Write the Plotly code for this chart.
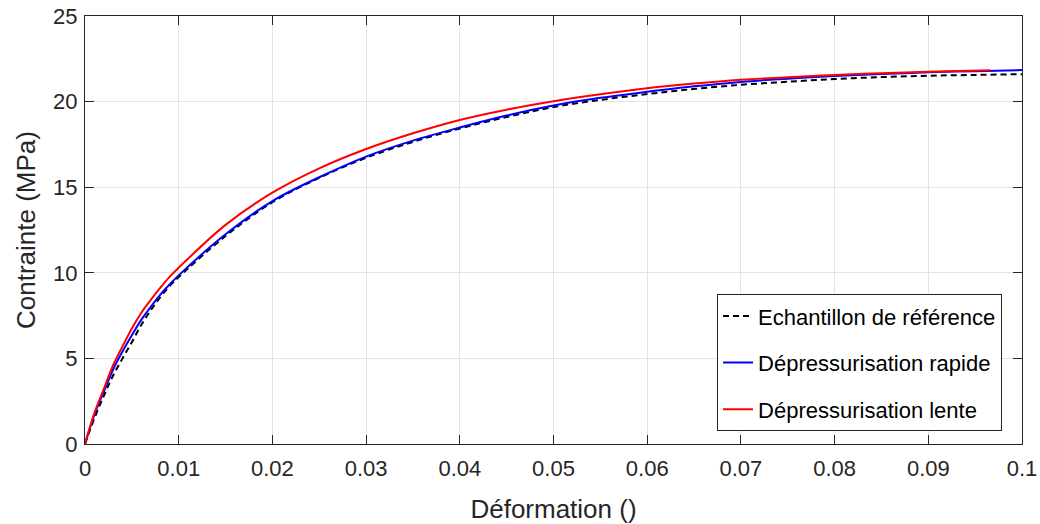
import plotly.graph_objects as go

# Echantillon de référence (black dashed)
ref_x = [0, 0.001, 0.002, 0.003, 0.004, 0.005, 0.006, 0.007, 0.008, 0.009, 0.01,
         0.015, 0.02, 0.025, 0.03, 0.035, 0.04, 0.045, 0.05, 0.055, 0.06, 0.065, 0.07,
         0.075, 0.08, 0.085, 0.09, 0.095, 0.1]
ref_y = [0, 1.5, 2.8, 4.0, 5.0, 5.95, 6.95, 7.8, 8.55, 9.2, 9.75,
         12.15, 14.12, 15.55, 16.72, 17.65, 18.43, 19.1, 19.68, 20.1, 20.44, 20.74, 20.98,
         21.16, 21.32, 21.43, 21.51, 21.56, 21.6]

# Dépressurisation rapide (blue)
rap_x = [0, 0.001, 0.002, 0.003, 0.004, 0.005, 0.006, 0.007, 0.008, 0.009, 0.01,
         0.015, 0.02, 0.025, 0.03, 0.035, 0.04, 0.045, 0.05, 0.055, 0.06, 0.065, 0.07,
         0.075, 0.08, 0.085, 0.09, 0.095, 0.1]
rap_y = [0, 1.7, 3.05, 4.35, 5.4, 6.35, 7.25, 8.0, 8.7, 9.3, 9.85,
         12.25, 14.19, 15.58, 16.79, 17.72, 18.49, 19.19, 19.77, 20.22, 20.57, 20.89, 21.15,
         21.34, 21.49, 21.61, 21.71, 21.78, 21.84]

# Dépressurisation lente (red)
len_x = [0, 0.001, 0.002, 0.003, 0.004, 0.005, 0.006, 0.007, 0.008, 0.009, 0.01,
         0.015, 0.02, 0.025, 0.03, 0.035, 0.04, 0.045, 0.05, 0.055, 0.06, 0.065, 0.07,
         0.075, 0.08, 0.085, 0.09, 0.0966]
len_y = [0, 1.8, 3.2, 4.6, 5.7, 6.75, 7.65, 8.4, 9.1, 9.75, 10.3,
         12.8, 14.68, 16.1, 17.23, 18.15, 18.93, 19.53, 20.02, 20.43, 20.78, 21.05, 21.27,
         21.42, 21.55, 21.66, 21.75, 21.83]

x_ticks = [0, 0.01, 0.02, 0.03, 0.04, 0.05, 0.06, 0.07, 0.08, 0.09, 0.1]
x_labels = ["0", "0.01", "0.02", "0.03", "0.04", "0.05", "0.06", "0.07", "0.08", "0.09", "0.1"]
y_ticks = [0, 5, 10, 15, 20, 25]

FONT = "Liberation Sans, Arial, Helvetica, sans-serif"
AX = "#262626"

fig = go.Figure()
fig.add_trace(go.Scatter(x=ref_x, y=ref_y, mode="lines", name="Echantillon de référence",
                         legendgroup="a",
                         line=dict(color="black", width=2, dash="6px,4px", shape="spline", smoothing=1)))
fig.add_trace(go.Scatter(x=rap_x, y=rap_y, mode="lines", name="Dépressurisation rapide",
                         legendgroup="b",
                         line=dict(color="#0000ff", width=2, shape="spline", smoothing=1)))
fig.add_trace(go.Scatter(x=len_x, y=len_y, mode="lines", name="Dépressurisation lente",
                         legendgroup="c",
                         line=dict(color="#ff0000", width=2, shape="spline", smoothing=1)))

axis_common = dict(
    showline=True, linecolor=AX, linewidth=1, mirror="ticks",
    ticks="inside", ticklen=9, tickcolor=AX, tickwidth=1,
    showgrid=True, gridcolor="#e3e3e3", gridwidth=1, zeroline=False,
    tickfont=dict(family=FONT, size=22, color=AX),
    ticklabeloverflow="allow",
    automargin=False,
)

fig.update_xaxes(range=[0, 0.1], tickvals=x_ticks, ticktext=x_labels,
                 ticklabelstandoff=5,
                 title=dict(text="Déformation ()", font=dict(family=FONT, size=26, color=AX), standoff=27),
                 **axis_common)
fig.update_yaxes(range=[0, 25], tickvals=y_ticks,
                 ticklabelstandoff=2,
                 title=dict(text="Contrainte (MPa)", font=dict(family=FONT, size=26, color=AX), standoff=10),
                 **axis_common)

fig.update_layout(
    width=1040, height=524,
    margin=dict(l=85, r=18, t=16, b=80),
    plot_bgcolor="white", paper_bgcolor="white",
    font=dict(family=FONT, color=AX),
    legend=dict(x=0.9787, y=0.03, xanchor="right", yanchor="bottom",
                bgcolor="white", bordercolor=AX, borderwidth=1,
                font=dict(family=FONT, size=22, color="black"),
                tracegroupgap=15, itemwidth=30),
)

# remove the page's default body margin so the figure fills the window exactly
fig.write_html("out.html", config={"displayModeBar": False},
               post_script="document.body.style.margin='0';")
